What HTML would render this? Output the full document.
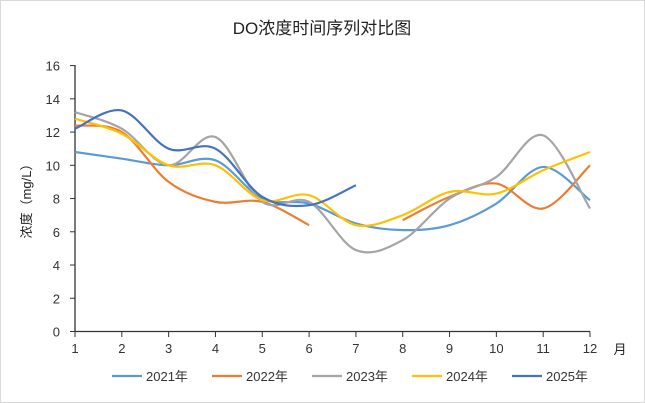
<!DOCTYPE html><html><head><meta charset="utf-8"><style>body{margin:0;background:#fff}svg{display:block;font-family:"Liberation Sans","Noto Sans CJK SC",sans-serif}</style></head><body>
<svg id="s" width="645" height="403" xmlns="http://www.w3.org/2000/svg">
<rect x="0.5" y="0.5" width="644" height="402" fill="#fff" stroke="#d9d9d9"/>
<text x="322" y="34" text-anchor="middle" font-size="17" fill="#222">DO浓度时间序列对比图</text>
<text transform="translate(31,198) rotate(-90)" text-anchor="middle" font-size="13" fill="#222">浓度（mg/L）</text>
<text x="620" y="354" text-anchor="middle" font-size="13" fill="#222">月</text>
<g id="g"></g>
</svg>
<script>
var X=function(m){return 75+(m-1)*515/11},Y=function(v){return 331.5-v*16.62};
var g=document.getElementById('g'),h='';
h+='<line x1="75" y1="65" x2="75" y2="331.5" stroke="#333" stroke-width="1.3"/><line x1="75" y1="331.5" x2="590" y2="331.5" stroke="#333" stroke-width="1.3"/>';
for(var v=0;v<=16;v+=2){h+='<line x1="70" x2="75" y1="'+Y(v)+'" y2="'+Y(v)+'" stroke="#333"/><text x="60" y="'+(Y(v)+5)+'" text-anchor="end" font-size="13" fill="#333">'+v+'</text>';}
for(var m=1;m<=12;m++){h+='<line x1="'+X(m)+'" x2="'+X(m)+'" y1="331.5" y2="337" stroke="#333"/><text x="'+X(m)+'" y="353" text-anchor="middle" font-size="13" fill="#333">'+m+'</text>';}
var S=[["2021年","#5b9bd5",[10.8,10.4,10.0,10.3,8.0,7.7,6.5,6.1,6.4,7.7,9.9,7.9]],
["2022年","#ed7d31",[12.4,12.0,9.0,7.8,7.8,6.4,null,6.7,8.1,8.9,7.4,10.0]],
["2023年","#a5a5a5",[13.2,12.2,10.0,11.7,7.8,7.8,4.9,5.5,8.0,9.3,11.8,7.4]],
["2024年","#ffc000",[12.8,11.9,10.0,10.0,7.9,8.2,6.4,7.0,8.4,8.3,9.7,10.8]],
["2025年","#4472c4",[12.2,13.3,11.0,11.0,8.1,7.6,8.8]]];
function seg(p){var d='M'+p[0][0]+','+p[0][1];for(var i=0;i<p.length-1;i++){var a=p[i-1]||p[i],b=p[i],c=p[i+1],e=p[i+2]||c;d+=' C'+(b[0]+(c[0]-a[0])/6)+','+(b[1]+(c[1]-a[1])/6)+' '+(c[0]-(e[0]-b[0])/6)+','+(c[1]-(e[1]-b[1])/6)+' '+c[0]+','+c[1];}return d;}
S.forEach(function(s,k){var segs=[],cur=[];s[2].forEach(function(v,i){if(v==null){if(cur.length)segs.push(cur);cur=[];}else cur.push([X(i+1),Y(v)]);});if(cur.length)segs.push(cur);
segs.forEach(function(p){h+='<path d="'+seg(p)+'" fill="none" stroke="'+s[1]+'" stroke-width="2.2"/>';});
var lx=112+k*100;h+='<line x1="'+lx+'" x2="'+(lx+30)+'" y1="376" y2="376" stroke="'+s[1]+'" stroke-width="2.2"/><text x="'+(lx+34)+'" y="381" font-size="13" fill="#333">'+s[0]+'</text>';});
g.innerHTML=h;
</script></body></html>
